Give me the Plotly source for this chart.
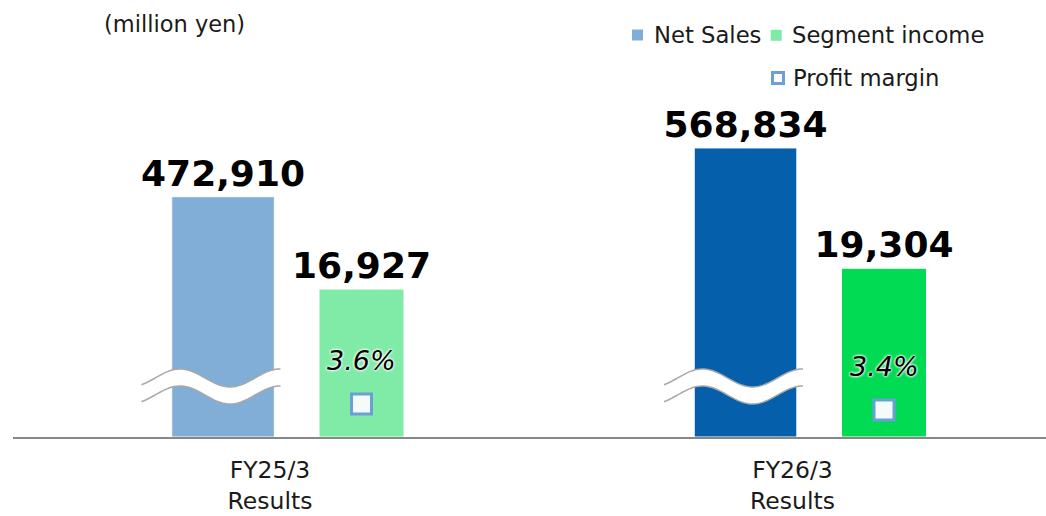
import numpy as np
import plotly.graph_objects as go

# ---------------- data ----------------
categories = ["FY25/3<br>Results", "FY26/3<br>Results"]
net_sales = [472910, 568834]
segment_income = [16927, 19304]
profit_margin = [3.6, 3.4]
margin_labels = ["3.6%", "3.4%"]

net_colors = ["#80aed6", "#055fab"]
seg_colors = ["#80eba7", "#00db53"]
margin_edge = "#6a9fd8"

W, H = 1046, 516
ML, MR, MT, MB = 13, 0, 0, 79
PW, PH = W - ML - MR, H - MT - MB
UNIT = 522.5          # pixels per category step
X0PX = 270            # pixel position of first category centre

xpos = list(range(len(categories)))
FONT = "DejaVu Sans"

def px_x(px):       # pixel -> paper x
    return (px - ML) / PW

def px_y(py):       # pixel -> paper y
    return (MT + PH - py) / PH

ns_off, ns_w = -0.1881, 0.1964
sg_off, sg_w = 0.0938, 0.1627

fig = go.Figure()

fig.add_trace(go.Bar(
    x=xpos, y=net_sales, name="Net Sales",
    offset=ns_off, width=ns_w,
    marker=dict(color=net_colors, line=dict(color="#ffffff", width=1)),
    texttemplate="%{y:,}", textposition="outside", constraintext="none",
    textfont=dict(family=FONT, size=36, color="#000000", weight="bold"),
    cliponaxis=False, yaxis="y", showlegend=False,
))
fig.add_trace(go.Bar(
    x=xpos, y=segment_income, name="Segment income",
    offset=sg_off, width=sg_w,
    marker=dict(color=seg_colors, line=dict(color="#ffffff", width=1)),
    texttemplate="%{y:,}", textposition="outside", constraintext="none",
    textfont=dict(family=FONT, size=36, color="#000000", weight="bold"),
    cliponaxis=False, yaxis="y2", showlegend=False,
))
mx = [x + sg_off + sg_w / 2 for x in xpos]
fig.add_trace(go.Scatter(
    x=mx, y=profit_margin, mode="markers", name="Profit margin",
    marker=dict(symbol="square", size=20, color="#f4fbf8",
                line=dict(color=margin_edge, width=3)),
    yaxis="y3", cliponaxis=False, showlegend=False,
))

annotations = []
for x, v, t in zip(mx, profit_margin, margin_labels):
    annotations.append(dict(
        x=x, y=v, xref="x", yref="y3", text=t, showarrow=False,
        yshift=44, yanchor="middle",
        font=dict(family=FONT, size=27, color="#000000", style="italic",
                  shadow="0px 0px 3px #ffffff, 0px 0px 3px #ffffff, 0px 0px 2px #ffffff"),
    ))

# unit label
annotations.append(dict(x=px_x(102), y=px_y(24), xref="paper", yref="paper",
                        text="(million yen)", showarrow=False, xanchor="left",
                        yanchor="middle", font=dict(family=FONT, size=22.5, color="#1a1a1a")))

# legend (manual)
shapes = []
leg_items = [
    ("rect", net_colors[0], 637.5, 35, "Net Sales", 652),
    ("rect", seg_colors[0], 776.2, 35.3, "Segment income", 790),
    ("hollow", margin_edge, 778, 78, "Profit margin", 791),
]
for kind, col, cx, cy, label, tx in leg_items:
    s = 5.5
    if kind == "rect":
        shapes.append(dict(type="rect", xref="paper", yref="paper",
                           x0=px_x(cx - s), x1=px_x(cx + s), y0=px_y(cy + s), y1=px_y(cy - s),
                           fillcolor=col, line=dict(width=0)))
    else:
        shapes.append(dict(type="rect", xref="paper", yref="paper",
                           x0=px_x(cx - s), x1=px_x(cx + s), y0=px_y(cy + s), y1=px_y(cy - s),
                           fillcolor="#ffffff", line=dict(color=col, width=3)))
    annotations.append(dict(x=px_x(tx), y=px_y(cy), xref="paper", yref="paper",
                            text=label, showarrow=False, xanchor="left", yanchor="middle",
                            font=dict(family=FONT, size=22.7, color="#1a1a1a")))

# axis-break waves over the net-sales bars
for x in xpos:
    cpx = X0PX + UNIT * x + (ns_off + ns_w / 2) * UNIT
    xs = np.linspace(cpx - 81.5, cpx + 57.5, 60)
    top = 378 - 9 * np.cos(np.pi * (xs - (cpx - 43)) / 50)
    bot = top + 17
    dx = (xs - X0PX) / UNIT

    def pt(a, b):
        return f"{a:.5f},{px_y(b):.5f}"
    band = "M" + " L".join(pt(a, b) for a, b in zip(dx, top))
    band += " L" + " L".join(pt(a, b) for a, b in zip(dx[::-1], bot[::-1])) + " Z"
    shapes.append(dict(type="path", xref="x", yref="paper", path=band,
                       fillcolor="#ffffff", line=dict(width=0), layer="above"))
    for line_y in (top, bot):
        p = "M" + " L".join(pt(a, b) for a, b in zip(dx, line_y))
        shapes.append(dict(type="path", xref="x", yref="paper", path=p,
                           line=dict(color="#a8a8a8", width=1.5), layer="above"))

fig.update_layout(
    width=W, height=H,
    margin=dict(l=ML, r=MR, t=MT, b=MB, pad=0, autoexpand=False),
    paper_bgcolor="#ffffff", plot_bgcolor="#ffffff",
    barmode="overlay",
    showlegend=False,
    xaxis=dict(
        range=[-(X0PX - ML) / UNIT, (W - MR - X0PX) / UNIT],
        tickvals=xpos, ticktext=categories,
        showgrid=False, zeroline=False, automargin=False,
        showline=True, linecolor="#878787", linewidth=2,
        ticks="", ticklabelstandoff=11,
        tickfont=dict(family=FONT, size=23.5, color="#1a1a1a"),
    ),
    yaxis=dict(range=[0, 860000], visible=False, fixedrange=True, automargin=False),
    yaxis2=dict(range=[0, 50000], visible=False, overlaying="y", automargin=False),
    yaxis3=dict(range=[2.5, 2.5 + PH / 30.0], visible=False, overlaying="y", automargin=False),
    annotations=annotations,
    shapes=shapes,
)

fig.write_html(
    "out.html",
    config={"displayModeBar": False},
    post_script="document.body.style.margin='0';document.body.style.overflow='hidden';",
)
